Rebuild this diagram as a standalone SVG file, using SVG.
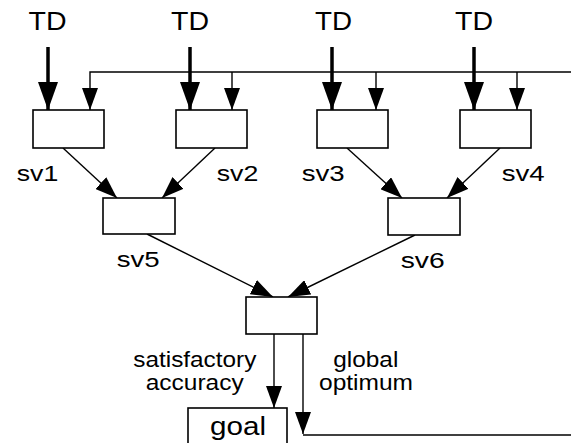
<svg xmlns="http://www.w3.org/2000/svg" width="571" height="443" viewBox="0 0 571 443">
<style>
.box{fill:#fff;stroke:#000;stroke-width:1.6}
.thin{fill:none;stroke:#000;stroke-width:1.4}
.thick{fill:none;stroke:#000;stroke-width:3.5}
text{font-family:"Liberation Sans",Arial,sans-serif;fill:#000}
.td{font-size:25px}
.sv{font-size:22px}
.lb{font-size:22px}
</style>
<defs>
<marker id="ah-thick" markerUnits="userSpaceOnUse" markerWidth="28" markerHeight="20" refX="28" refY="10" orient="auto">
<path d="M0,0 L28,10 L0,20 z" fill="#000"/>
</marker>
<marker id="ah-thin" markerUnits="userSpaceOnUse" markerWidth="22" markerHeight="16" refX="22" refY="8" orient="auto">
<path d="M0,0 L22,8 L0,16 z" fill="#000"/>
</marker>
</defs>
<g id="connectors">
<line class="thick" x1="48" y1="47" x2="48" y2="110" marker-end="url(#ah-thick)"/>
<line class="thick" x1="190" y1="47" x2="190" y2="110" marker-end="url(#ah-thick)"/>
<line class="thick" x1="332" y1="47" x2="332" y2="110" marker-end="url(#ah-thick)"/>
<line class="thick" x1="474" y1="47" x2="474" y2="110" marker-end="url(#ah-thick)"/>
<polyline class="thin" points="571,72 90,72 90,110" marker-end="url(#ah-thin)"/>
<line class="thin" x1="232" y1="72" x2="232" y2="110" marker-end="url(#ah-thin)"/>
<line class="thin" x1="376" y1="72" x2="376" y2="110" marker-end="url(#ah-thin)"/>
<line class="thin" x1="517" y1="72" x2="517" y2="110" marker-end="url(#ah-thin)"/>
<line class="thin" x1="63" y1="148" x2="117" y2="198" marker-end="url(#ah-thin)"/>
<line class="thin" x1="215" y1="148" x2="162" y2="198" marker-end="url(#ah-thin)"/>
<line class="thin" x1="347" y1="148" x2="402" y2="198" marker-end="url(#ah-thin)"/>
<line class="thin" x1="500" y1="148" x2="447" y2="198" marker-end="url(#ah-thin)"/>
<line class="thin" x1="147" y1="234" x2="273" y2="297" marker-end="url(#ah-thin)"/>
<line class="thin" x1="415" y1="235" x2="288" y2="297" marker-end="url(#ah-thin)"/>
<line class="thin" x1="274" y1="334" x2="274" y2="408" marker-end="url(#ah-thin)"/>
<line class="thin" x1="303" y1="334" x2="303" y2="434" marker-end="url(#ah-thin)"/>
<line class="thin" x1="303" y1="435" x2="571" y2="435"/>
</g>
<g id="n1"><rect class="box" x="33" y="110" width="71" height="38"/></g>
<g id="n2"><rect class="box" x="176" y="110" width="71" height="38"/></g>
<g id="n3"><rect class="box" x="317" y="110" width="71" height="38"/></g>
<g id="n4"><rect class="box" x="460" y="110" width="71" height="38"/></g>
<g id="n5"><rect class="box" x="103" y="198" width="72" height="36"/></g>
<g id="n6"><rect class="box" x="388" y="198" width="72" height="37"/></g>
<g id="n7"><rect class="box" x="246" y="297" width="71" height="37"/></g>
<g id="goal"><rect class="box" x="188" y="408" width="99" height="42"/>
<text class="td" x="210" y="435" textLength="56" lengthAdjust="spacingAndGlyphs">goal</text></g>
<g id="labels">
<text class="td" x="28.5" y="30" textLength="38" lengthAdjust="spacingAndGlyphs">TD</text>
<text class="td" x="171" y="30" textLength="38" lengthAdjust="spacingAndGlyphs">TD</text>
<text class="td" x="315" y="30" textLength="37" lengthAdjust="spacingAndGlyphs">TD</text>
<text class="td" x="455" y="30" textLength="38" lengthAdjust="spacingAndGlyphs">TD</text>
<text class="sv" x="16.7" y="180.5" textLength="41.6" lengthAdjust="spacingAndGlyphs">sv1</text>
<text class="sv" x="216.7" y="180.5" textLength="41.6" lengthAdjust="spacingAndGlyphs">sv2</text>
<text class="sv" x="301.7" y="181" textLength="43" lengthAdjust="spacingAndGlyphs">sv3</text>
<text class="sv" x="501.7" y="181" textLength="43" lengthAdjust="spacingAndGlyphs">sv4</text>
<text class="sv" x="116.7" y="266.7" textLength="43" lengthAdjust="spacingAndGlyphs">sv5</text>
<text class="sv" x="400.7" y="267.7" textLength="44" lengthAdjust="spacingAndGlyphs">sv6</text>
<text class="lb" x="133.3" y="367.3" textLength="123" lengthAdjust="spacingAndGlyphs">satisfactory</text>
<text class="lb" x="145.7" y="390" textLength="98" lengthAdjust="spacingAndGlyphs">accuracy</text>
<text class="lb" x="333.3" y="367.3" textLength="65" lengthAdjust="spacingAndGlyphs">global</text>
<text class="lb" x="319" y="390" textLength="94" lengthAdjust="spacingAndGlyphs">optimum</text>
</g>
</svg>
